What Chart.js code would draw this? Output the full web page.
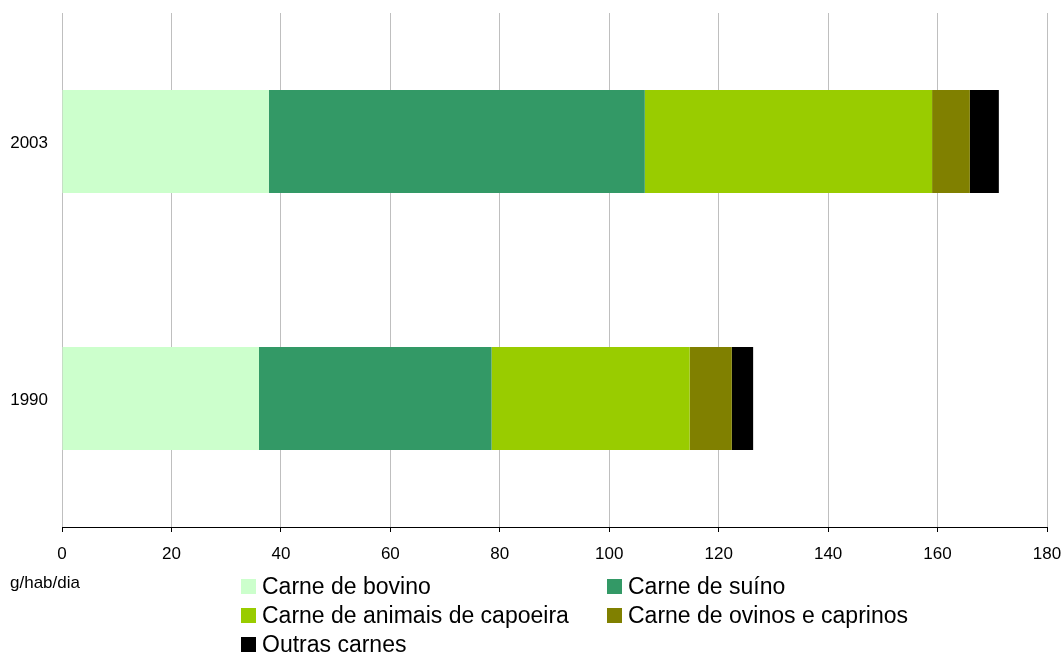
<!DOCTYPE html>
<html>
<head>
<meta charset="utf-8">
<script src="https://cdn.jsdelivr.net/npm/chart.js@4/dist/chart.umd.min.js"></script>
<style>
  html, body { margin: 0; padding: 0; background: #fff; }
  #wrap { position: relative; width: 1064px; height: 652px; overflow: hidden; font-family: "Liberation Sans", Arial, sans-serif; }
  #c { position: absolute; left: 0; top: 0; }
  #unit { position: absolute; left: 10px; top: 573px; font-size: 17px; color: #000; }
  .lg { position: absolute; display: flex; align-items: center; font-size: 23px; color: #000; white-space: nowrap; height: 26px; }
  .sw { width: 15px; height: 15px; margin-right: 6px; flex: none; }
</style>
</head>
<body>
<div id="wrap">
  <canvas id="c" width="1064" height="652"></canvas>
  <div id="unit">g/hab/dia</div>
  <div id="legend"></div>
</div>
<script>
const categories = ['2003', '1990'];
const seriesNames = ['Carne de bovino', 'Carne de suíno', 'Carne de animais de capoeira', 'Carne de ovinos e caprinos', 'Outras carnes'];
const bovino = [37.8, 36.0];
const suino = [68.7, 42.5];
const capoeira = [52.5, 36.2];
const ovinos = [6.9, 7.7];
const outras = [5.3, 3.9];
const xTicks = [0, 20, 40, 60, 80, 100, 120, 140, 160, 180];
const colors = ['#CCFFCC', '#339966', '#99CC00', '#808000', '#000000'];

const seriesValues = [bovino, suino, capoeira, ovinos, outras];
const datasets = seriesValues.map((vals, i) => ({
  label: seriesNames[i],
  data: vals,
  backgroundColor: colors[i],
  borderWidth: 0,
  barPercentage: 0.4,
  categoryPercentage: 1.0
}));

new Chart(document.getElementById('c'), {
  type: 'bar',
  data: { labels: categories, datasets },
  options: {
    indexAxis: 'y',
    responsive: false,
    animation: false,
    layout: { padding: { top: 13, right: 17, bottom: 0, left: 0 } },
    plugins: { legend: { display: false }, tooltip: { enabled: false } },
    scales: {
      x: {
        stacked: true,
        min: 0, max: 180,
        afterBuildTicks: (s) => { s.ticks = xTicks.map(v => ({ value: v })); },
        afterFit: (s) => { s.height = 125; s.paddingLeft = 0; s.paddingRight = 0; },
        grid: { color: '#BFBFBF', lineWidth: 1, tickLength: 5, tickColor: '#000' },
        border: { display: true, color: '#000', width: 1 },
        ticks: { color: '#000', font: { family: 'Liberation Sans', size: 17 }, padding: 12, maxRotation: 0 }
      },
      y: {
        stacked: true,
        afterFit: (s) => { s.width = 62; s.paddingTop = 0; s.paddingBottom = 0; },
        grid: { display: false, tickLength: 0 },
        border: { display: false },
        ticks: { color: '#000', font: { family: 'Liberation Sans', size: 17 }, padding: 14, labelOffset: 2 }
      }
    }
  }
});

const legendPos = [[241, 573], [607, 573], [241, 602], [607, 602], [241, 631]];
const lg = document.getElementById('legend');
seriesNames.forEach((name, i) => {
  const d = document.createElement('div');
  d.className = 'lg';
  d.style.left = legendPos[i][0] + 'px';
  d.style.top = legendPos[i][1] + 'px';
  const sw = document.createElement('span');
  sw.className = 'sw';
  sw.style.background = colors[i];
  const t = document.createElement('span');
  t.textContent = name;
  d.appendChild(sw); d.appendChild(t);
  lg.appendChild(d);
});
</script>
</body>
</html>
